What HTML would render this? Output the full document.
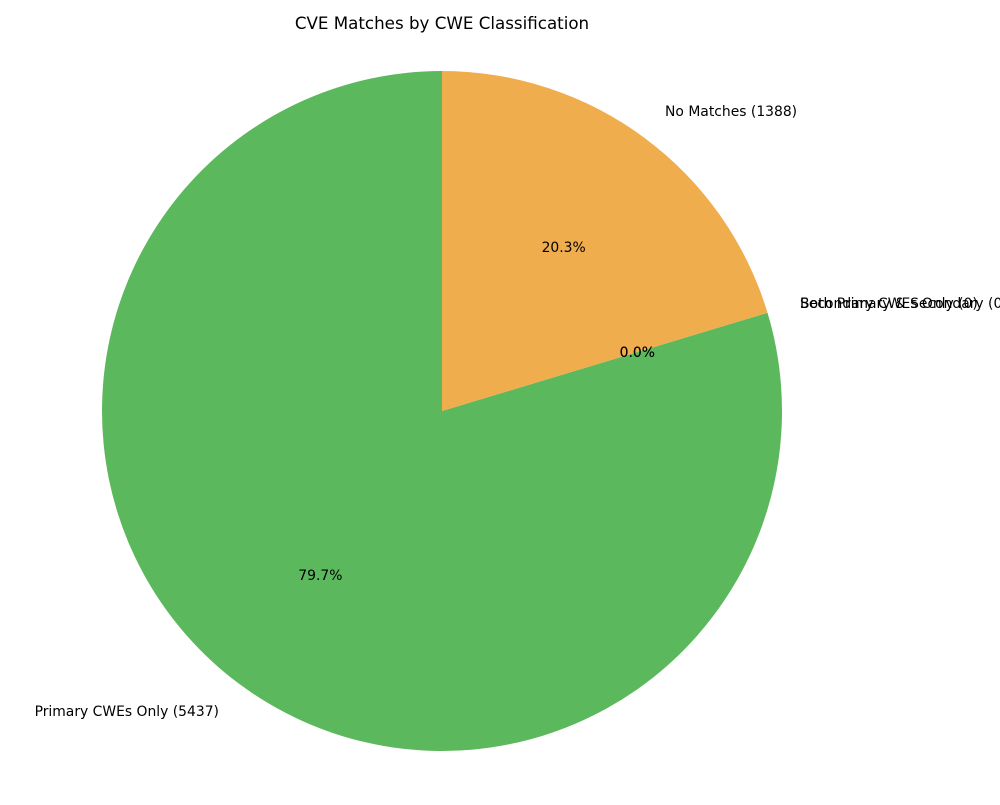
<!DOCTYPE html>
<html><head><meta charset="utf-8"><style>
body{margin:0;background:#fff;}
svg text{font-family:"DejaVu Sans","Liberation Sans",sans-serif;}
</style></head><body>
<svg id="chart" width="1000" height="800" viewBox="0 0 1000 800">
<text x="442" y="29" text-anchor="middle" font-size="16.7">CVE Matches by CWE Classification</text>
<g id="slices"></g><g id="labels"></g>
</svg>
<script>
const categories = ["Primary CWEs Only", "Secondary CWEs Only", "Both Primary & Secondary", "No Matches"];
const counts = [5437, 0, 0, 1388];
const colors = ["#5cb85c", "#5bc0de", "#d9534f", "#f0ad4e"];
const cx = 442, cy = 411, R = 340;
const total = counts.reduce((a, b) => a + b, 0);
const NS = "http://www.w3.org/2000/svg";
const gS = document.getElementById('slices'), gL = document.getElementById('labels');
let ang = 90;
function pt(a, r) { const t = a * Math.PI / 180; return [cx + r * Math.cos(t), cy - r * Math.sin(t)]; }
counts.forEach((v, i) => {
  const sweep = v / total * 360;
  const a0 = ang, a1 = ang + sweep, mid = (a0 + a1) / 2;
  ang = a1;
  if (sweep > 0) {
    const p0 = pt(a0, R), p1 = pt(a1, R);
    const large = sweep > 180 ? 1 : 0;
    const path = document.createElementNS(NS, 'path');
    path.setAttribute('d', `M${cx},${cy} L${p0[0]},${p0[1]} A${R},${R} 0 ${large} 0 ${p1[0]},${p1[1]} Z`);
    path.setAttribute('fill', colors[i]);
    
    
    gS.appendChild(path);
  }
  const lp = pt(mid, R * 1.1);
  const lab = document.createElementNS(NS, 'text');
  const c = Math.cos(mid * Math.PI / 180);
  lab.setAttribute('x', lp[0]); lab.setAttribute('y', lp[1] + 5);
  lab.setAttribute('font-size', '13.9');
  lab.setAttribute('text-anchor', c >= 0 ? 'start' : 'end');
  lab.textContent = categories[i] + ' (' + v + ')';
  
  
  gL.appendChild(lab);
  const pp = pt(mid, R * 0.6);
  const pct = document.createElementNS(NS, 'text');
  pct.setAttribute('x', pp[0]); pct.setAttribute('y', pp[1] + 5);
  pct.setAttribute('font-size', '13.9');
  pct.setAttribute('text-anchor', 'middle');
  pct.textContent = (v / total * 100).toFixed(1) + '%';
  
  
  gL.appendChild(pct);
});
</script>
</body></html>
